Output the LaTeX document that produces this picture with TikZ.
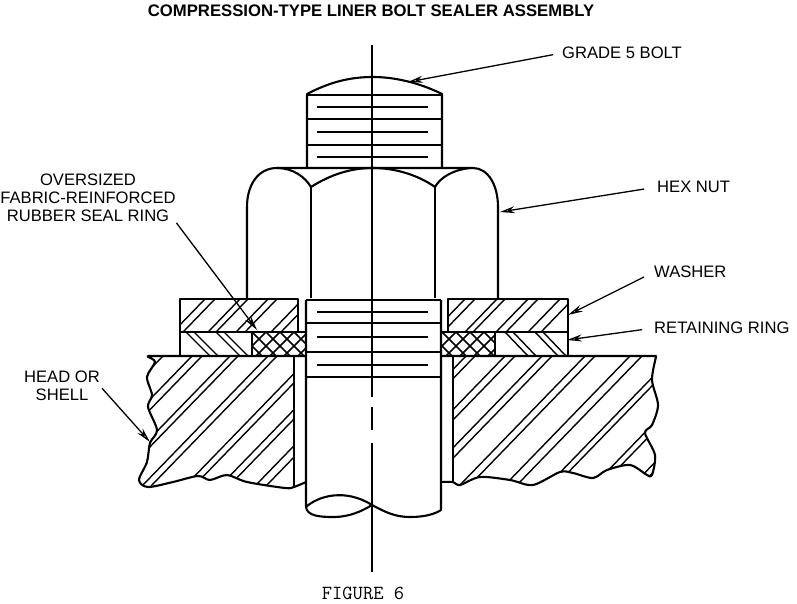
\documentclass[tikz,border=0pt]{standalone}
\usepackage{fontspec}
\setsansfont{Liberation Sans}
\usetikzlibrary{arrows.meta}
\begin{document}
\begin{tikzpicture}[
				x=1pt,y=-1pt,
				font=\sffamily,
				every node/.style={
						font=\sffamily\fontsize{16.6}{18}\selectfont,
						inner sep=0pt,
					},
				part/.style={line width=2.1pt,line join=round},
				thread/.style={line width=1.8pt},
				hatch/.style={line width=1.4pt},
				mesh/.style={line width=1.5pt},
				axis/.style={line width=1.4pt},
				leader/.style={line width=1.3pt,-{Stealth[open,length=15pt,width=7pt]}},]
			\useasboundingbox (0,0) rectangle (797,604);

			% labels
			\node[font=\sffamily\bfseries\fontsize{16.7}{18}\selectfont] (titlelabel) at (371,11) {COMPRESSION-TYPE LINER BOLT SEALER ASSEMBLY};
			\node[anchor=west] (boltlabel) at (562,53) {GRADE 5 BOLT};
			\node[anchor=west] (nutlabel) at (657,187) {HEX NUT};
			\node[anchor=west] (washerlabel) at (654,272) {WASHER};
			\node[anchor=west] (ringlabel) at (654,328) {RETAINING RING};
			\node[align=center] (seallabel) at (88,198) {OVERSIZED\\FABRIC-REINFORCED\\RUBBER SEAL RING};
			\node[align=center] (headlabel) at (62,386) {HEAD OR\\SHELL};
			\node[font=\ttfamily\fontsize{20}{20}\selectfont] (figlabel) at (363,593) {FIGURE 6};

			% centre line
			\draw[axis] (372,45) -- (372,397);
			\draw[axis] (372,407) -- (372,430);
			\draw[axis] (372,443) -- (372,572);

			% bolt head
			\draw[part] (307,168) -- (307,94) .. controls (330,82) and (350,77) .. (373,77) .. controls (395,77) and (420,83) .. (442,94) -- (442,168);
			\foreach \y in {95,119,145} {
					\draw[part] (307,\y) -- (442,\y);
				}
			\foreach \y in {107,132,157} {
					\draw[thread] (317,\y) -- (428,\y);
				}

			% hex nut
			\draw[part] (247,298) -- (247,207) .. controls (247,185) and (258,168) .. (277,168) -- (473,168) .. controls (488,168) and (498,185) .. (498,207) -- (498,298);
			\draw[part] (277,168) .. controls (293,168) and (305,177) .. (311,187) .. controls (330,175) and (350,168) .. (373,168) .. controls (395,168) and (418,175) .. (435,187) .. controls (440,178) and (452,170) .. (470,168);
			\draw[part] (311,187) -- (311,298);
			\draw[part] (435,187) -- (435,298);

			% shank
			\foreach \y in {300,323,352,377} {
					\draw[part] (306,\y) -- (441,\y);
				}
			\foreach \y in {312,337,365} {
					\draw[thread] (317,\y) -- (428,\y);
				}
			\draw[part] (306,300) -- (306,507) .. controls (318,496) and (345,488) .. (372,505) .. controls (385,512) and (395,517) .. (410,517) .. controls (425,517) and (435,514) .. (441,510) -- (441,300);
			\draw[part] (306,507) .. controls (307,516) and (320,517) .. (333,517) .. controls (350,517) and (362,511) .. (372,505);

			% washer
			\begin{scope}
				\clip (180,299) rectangle (298,332);
				\foreach \t in {205,215,240,248,268,277,303,313} {
						\draw[hatch] (\t,299) -- ++(-60,62);
					}
			\end{scope}
			\begin{scope}
				\clip (448,299) rectangle (568,332);
				\foreach \t in {465,475,497,505,528,538,560,573} {
						\draw[hatch] (\t,299) -- ++(-60,62);
					}
			\end{scope}
			\draw[part] (180,299) rectangle (298,332);
			\draw[part] (448,299) rectangle (568,332);

			% retaining ring
			\begin{scope}
				\clip (180,332) rectangle (252,356);
				\foreach \t in {186,194,216,224} {
						\draw[hatch] (\t,332) -- ++(24,24);
					}
			\end{scope}
			\begin{scope}
				\clip (495,332) rectangle (568,356);
				\foreach \t in {505,513,535,543} {
						\draw[hatch] (\t,332) -- ++(23,24);
					}
			\end{scope}
			\draw[part] (180,332) rectangle (252,356);
			\draw[part] (495,332) rectangle (568,356);

			% seal ring
			\begin{scope}
				\clip (252,332) rectangle (306,356);
				\foreach \t in {210,224,...,350} {
						\draw[mesh] (\t,332) -- ++(30,30);
						\draw[mesh] (\t,332) -- ++(-30,30);
					}
			\end{scope}
			\begin{scope}
				\clip (441,332) rectangle (495,356);
				\foreach \t in {400,414,...,540} {
						\draw[mesh] (\t,332) -- ++(30,30);
						\draw[mesh] (\t,332) -- ++(-30,30);
					}
			\end{scope}
			\draw[part] (252,332) -- (306,332);
			\draw[part] (441,332) -- (495,332);

			% head or shell
			\begin{scope}
				\clip (294,356) -- (148,356) -- plot[smooth,tension=.5] coordinates {(148,357) (155,362) (147,377) (152,395) (148,407) (157,430) (150,443) (147,462) (139,480) (148,487) (173,482) (198,476) (210,480) (227,475) (247,482) (285,488) (294,487)} -- cycle;
				\foreach \t in {163,192,202,230,238,268,277,311,320,346,355,381,392} {
						\draw[hatch] (\t,356) -- ++(-220,227);
					}
			\end{scope}
			\begin{scope}
				\clip (453,356) -- (656,356) -- plot[smooth,tension=.5] coordinates {(656,357) (652,380) (658,405) (652,425) (645,433) (655,455) (652,475) (647,475) (630,465) (607,470) (593,478) (573,473) (560,472) (533,485) (510,480) (480,477) (460,485) (453,482)} -- cycle;
				\foreach \t in {466,475,505,515,542,552,585,595,630,642,673,681,719,727,758,766} {
						\draw[hatch] (\t,356) -- ++(-220,227);
					}
			\end{scope}
			\draw[part] (306,356) -- (148,356) -- plot[smooth,tension=.5] coordinates {(148,357) (155,362) (147,377) (152,395) (148,407) (157,430) (150,443) (147,462) (139,480) (148,487) (173,482) (198,476) (210,480) (227,475) (247,482) (285,488) (294,487) (306,482)};
			\draw[part] (441,356) -- (656,356) -- plot[smooth,tension=.5] coordinates {(656,357) (652,380) (658,405) (652,425) (645,433) (655,455) (652,475) (647,475) (630,465) (607,470) (593,478) (573,473) (560,472) (533,485) (510,480) (480,477) (460,485) (453,482) (441,482)};
			\draw[part] (294,356) -- (294,487);
			\draw[part] (453,356) -- (453,482);

			% leaders
			\coordinate (bolttip) at (408,82);
			\coordinate (nuttip) at (500,212);
			\coordinate (washertip) at (568,315);
			\coordinate (ringtip) at (567,340);
			\coordinate (sealtip) at (257,330);
			\coordinate (headtip) at (150,442);
			\draw[leader,shorten <=9pt] (boltlabel.west) -- (bolttip);
			\draw[leader,shorten <=13pt] (nutlabel.west) -- (nuttip);
			\draw[leader,shorten <=11pt] (washerlabel.west) -- (washertip);
			\draw[leader,shorten <=12pt] (ringlabel.west) -- (ringtip);
			\draw[leader,shorten <=1pt] (seallabel.south east) -- (sealtip);
			\draw[leader,shorten <=3pt] (headlabel.east) -- (headtip);
		\end{tikzpicture}
\end{document}
